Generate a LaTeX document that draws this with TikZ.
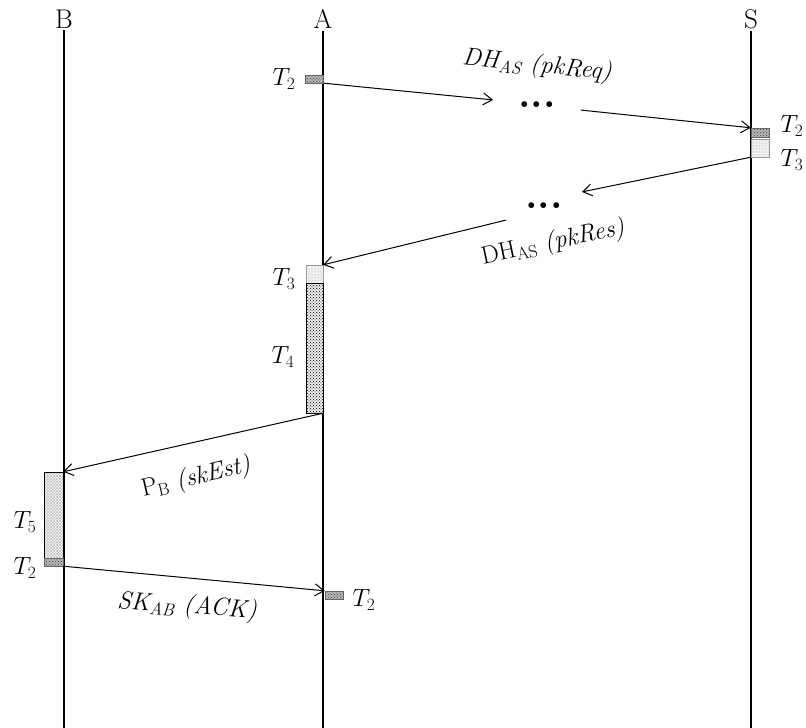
\documentclass[tikz,border=0pt]{standalone}
\usepackage{amsmath}
\usepackage{tikz}
\usetikzlibrary{arrows.meta, patterns}
\tikzset{
    seqhead/.style={font=\fontsize{27}{30}\selectfont, inner sep=2pt},
    seqlife/.style={line width=1.3pt},
    seqmsg/.style={-{Straight Barb[length=9pt,width=12pt]}, line width=1pt},
    seqlabel/.style={font=\fontsize{25}{28}\selectfont, inner sep=1pt},
    tlabel/.style={font=\fontsize{24}{28}\selectfont, inner sep=1pt},
    seqdots/.style={font=\fontsize{40}{40}\selectfont\bfseries, inner ysep=2pt},
    tdark/.style={draw=black!60, preaction={fill=gray!55}, pattern=crosshatch dots, pattern color=black!80, inner sep=0pt, minimum width=18pt, minimum height=8pt},
    tlight/.style={draw=gray!80, preaction={fill=gray!10}, pattern=dots, pattern color=gray!90, inner sep=0pt, minimum width=18pt},
    tdense/.style={draw=black, preaction={fill=gray!15}, pattern=crosshatch dots, pattern color=black, inner sep=0pt, minimum width=17pt},
    thatch/.style={draw=black, pattern=crosshatch, pattern color=gray!55, inner sep=0pt, minimum width=19pt}
}

\begin{document}
\begin{tikzpicture}[x=1pt, y=-1pt]
    \useasboundingbox (0,0) rectangle (806,728);
    \node[seqhead] (B) at (64,19) {B};
    \node[seqhead] (A) at (323,19) {A};
    \node[seqhead] (S) at (751,19) {S};
    \coordinate (Bend) at (64,728);
    \coordinate (Aend) at (323,728);
    \coordinate (Send) at (751,728);

    % Lifelines
    \draw[seqlife] (B) -- (Bend);
    \draw[seqlife] (A) -- (Aend);
    \draw[seqlife] (S) -- (Send);

    % Time boxes
    \node[tdark] (tA1) at (314.5,79) {};
    \node[tdark, minimum height=9pt] (tS1) at (760,132.5) {};
    \node[tlight, minimum height=18pt] (tS2) at (760,148) {};
    \node[tlight, minimum width=17pt, minimum height=18pt] (tA3) at (314.5,274) {};
    \node[tdense, minimum height=130pt] (tA4) at (314.5,348) {};
    \node[thatch, minimum height=86pt] (tB5) at (53.5,515) {};
    \node[tdark, minimum width=19pt] (tB2) at (53.5,562) {};
    \node[tdark] (tA5) at (334,595) {};

    \node[tlabel] (lA1) at (284,79) {$T_2$};
    \node[tlabel] (lS1) at (792,126) {$T_2$};
    \node[tlabel] (lS2) at (792,160) {$T_3$};
    \node[tlabel] (lA3) at (284,279) {$T_3$};
    \node[tlabel] (lA4) at (283,357) {$T_4$};
    \node[tlabel] (lB5) at (25,522) {$T_5$};
    \node[tlabel] (lB2) at (25,568) {$T_2$};
    \node[tlabel] (lA5) at (364,600) {$T_2$};

    % Messages
    \node[seqdots, inner xsep=25pt] (dots1) at (537,105) {...};
    \node[seqdots, inner xsep=19pt, inner ysep=11pt] (dots2) at (544,206) {...};
    \draw[seqmsg] (tA1.south east) -- (dots1.north west);
    \draw[seqmsg] (dots1.south east) -- (tS1.north west);
    \draw[seqmsg] (tS2.south west) -- (dots2.north east);
    \draw[seqmsg] (dots2.south west) -- (tA3.north east);
    \draw[seqmsg] (tA4.south east) -- (tB5.north east);
    \draw[seqmsg] (tB2.south east) -- (tA5.north west);

    \node[seqlabel, rotate=-6] (mReq) at (537,66) {\textit{DH\textsubscript{AS} (pkReq)}};
    \node[seqlabel, rotate=12] (mRes) at (553,243) {DH\textsubscript{AS} \textit{(pkRes)}};
    \node[seqlabel, rotate=13] (mEst) at (196,478) {P\textsubscript{B} \textit{(skEst)}};
    \node[seqlabel, rotate=-4] (mAck) at (187,607) {\textit{SK\textsubscript{AB} (ACK)}};
\end{tikzpicture}
\end{document}
